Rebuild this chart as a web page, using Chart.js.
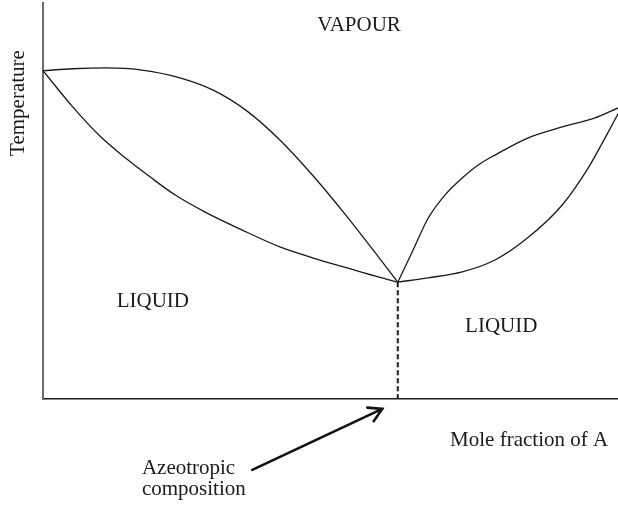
<!DOCTYPE html>
<html>
<head>
<meta charset="utf-8">
<script src="https://cdn.jsdelivr.net/npm/chart.js@4.4.0/dist/chart.umd.min.js"></script>
<style>
  html, body { margin: 0; padding: 0; background: #fff; }
</style>
</head>
<body>
<canvas id="chartAzeo" width="618" height="505"></canvas>
<script>
// x = mole fraction of A (0..1), T = temperature (arbitrary units 0..100)
var dewLeftX  = [0, 0.052, 0.111, 0.169, 0.238, 0.296, 0.355, 0.412, 0.470, 0.529, 0.586, 0.617];
var dewLeftT  = [82.9, 83.4, 83.6, 83.1, 81.1, 78.0, 72.7, 65.4, 56.3, 46.0, 35.4, 29.5];

var bubLeftX  = [0, 0.052, 0.099, 0.143, 0.186, 0.230, 0.282, 0.343, 0.412, 0.470, 0.529, 0.586, 0.617];
var bubLeftT  = [82.9, 73.7, 66.4, 60.9, 56.1, 51.5, 47.2, 42.9, 38.4, 35.6, 33.1, 30.7, 29.5];

var dewRightX = [0.617, 0.642, 0.670, 0.699, 0.729, 0.757, 0.786, 0.843, 0.903, 0.960, 1.0];
var dewRightT = [29.5, 37.1, 45.7, 51.5, 55.8, 59.1, 61.6, 65.9, 68.7, 71.0, 73.5];

var bubRightX = [0.617, 0.670, 0.729, 0.786, 0.843, 0.903, 0.948, 0.983, 1.0];
var bubRightT = [29.5, 30.6, 32.1, 35.1, 40.7, 49.0, 58.3, 67.4, 72.0];

// azeotrope point
var azeoX = 0.617;
var azeoT = 29.5;

// region labels (x, T)
var labelText = ['VAPOUR', 'LIQUID', 'LIQUID'];
var labelX    = [0.5496, 0.191, 0.797];
var labelT    = [92.9, 23.2, 16.9];

// arrow: tail -> tip, and its caption
var arrowX = [0.364, 0.590];
var arrowT = [-17.9, -2.5];
var captionLines = ['Azeotropic', 'composition'];
var captionX = 0.172;
var captionT = [-19.0, -24.3];

var xTitle = 'Mole fraction of A';
var xTitleX = 0.708;
var xTitleT = -11.9;
var yTitle = 'Temperature';

function toPoints(xs, ts) {
    var pts = [];
    for (i = 0; i < xs.length; i++) {
        pts.push({x: xs[i], y: ts[i]});
    }
    return pts;
}

var serif = "21px 'Liberation Serif', 'Times New Roman', serif";

function curve(xs, ts) {
    return {
        data: toPoints(xs, ts),
        borderColor: '#1a1a1a',
        borderWidth: 1.3,
        pointRadius: 0,
        showLine: true,
        fill: false,
        cubicInterpolationMode: 'monotone'
    };
}

// text and arrow drawn on top of the chart
var notes = {
    id: 'notes',
    afterDraw: function (chart) {
        var ctx = chart.ctx;
        var xs = chart.scales.x, ys = chart.scales.y;
        ctx.save();
        ctx.fillStyle = '#1a1a1a';
        ctx.font = serif;
        ctx.textBaseline = 'alphabetic';

        ctx.textAlign = 'center';
        for (i = 0; i < labelText.length; i++) {
            ctx.fillText(labelText[i], xs.getPixelForValue(labelX[i]), ys.getPixelForValue(labelT[i]));
        }

        ctx.textAlign = 'left';
        ctx.fillText(xTitle, xs.getPixelForValue(xTitleX), ys.getPixelForValue(xTitleT));
        for (i = 0; i < captionLines.length; i++) {
            ctx.fillText(captionLines[i], xs.getPixelForValue(captionX), ys.getPixelForValue(captionT[i]));
        }

        // rotated y title
        ctx.save();
        ctx.translate(chart.chartArea.left - 25, 103);
        ctx.rotate(-Math.PI / 2);
        ctx.textAlign = 'center';
        ctx.textBaseline = 'middle';
        ctx.fillText(yTitle, 0, 0);
        ctx.restore();

        // arrow
        var x0 = xs.getPixelForValue(arrowX[0]), y0 = ys.getPixelForValue(arrowT[0]);
        var x1 = xs.getPixelForValue(arrowX[1]), y1 = ys.getPixelForValue(arrowT[1]);
        var ang = Math.atan2(y1 - y0, x1 - x0);
        var head = 15;
        ctx.strokeStyle = '#111';
        ctx.lineWidth = 2.6;
        ctx.lineCap = 'round';
        ctx.beginPath();
        ctx.moveTo(x0, y0);
        ctx.lineTo(x1, y1);
        ctx.stroke();
        ctx.beginPath();
        ctx.moveTo(x1 - head * Math.cos(ang - Math.PI / 6), y1 - head * Math.sin(ang - Math.PI / 6));
        ctx.lineTo(x1, y1);
        ctx.lineTo(x1 - head * Math.cos(ang + Math.PI / 6), y1 - head * Math.sin(ang + Math.PI / 6));
        ctx.stroke();
        ctx.restore();
    }
};

var chartAzeo = new Chart(document.getElementById('chartAzeo'), {
    type: 'scatter',
    data: {
        datasets: [
            curve(dewLeftX, dewLeftT),
            curve(bubLeftX, bubLeftT),
            curve(dewRightX, dewRightT),
            curve(bubRightX, bubRightT),
            {
                // dashed drop line at the azeotropic composition
                data: [{x: azeoX, y: azeoT}, {x: azeoX, y: 0}],
                borderColor: '#1a1a1a',
                borderWidth: 2,
                borderDash: [5, 3],
                pointRadius: 0,
                showLine: true
            }
        ]
    },
    options: {
        responsive: false,
        animation: false,
        layout: { padding: { left: 43, right: 0, top: 3, bottom: 106 } },
        plugins: {
            legend: { display: false },
            tooltip: { enabled: false }
        },
        scales: {
            x: {
                type: 'linear', min: 0, max: 1,
                grid: { display: false, drawTicks: false },
                ticks: { display: false },
                border: { display: true, color: '#1a1a1a', width: 1.5 }
            },
            y: {
                type: 'linear', min: 0, max: 100,
                grid: { display: false, drawTicks: false },
                ticks: { display: false },
                border: { display: true, color: '#6b6b6b', width: 2 }
            }
        }
    },
    plugins: [notes]
});
</script>
</body>
</html>
